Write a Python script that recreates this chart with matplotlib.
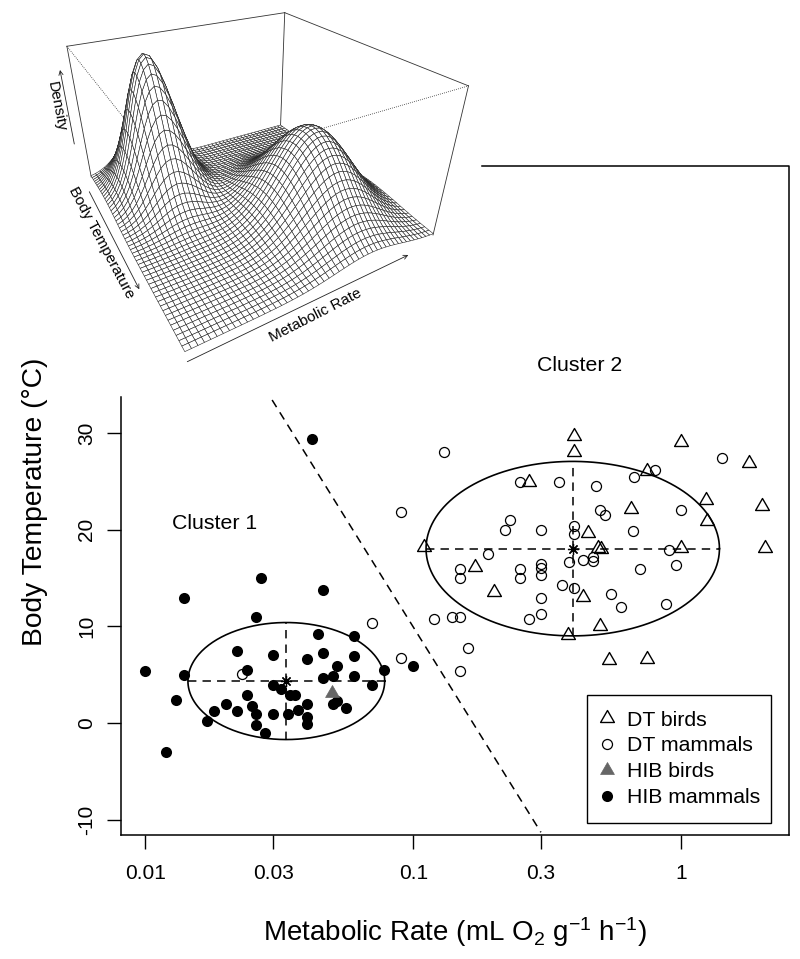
import numpy as np
import matplotlib
matplotlib.use('Agg')
import matplotlib.pyplot as plt
from matplotlib.lines import Line2D
from matplotlib.patches import FancyArrowPatch, Rectangle
from matplotlib.path import Path
from mpl_toolkits.mplot3d import Axes3D

plt.rcParams['font.family'] = ['Liberation Sans', 'DejaVu Sans']
plt.rcParams['mathtext.fontset'] = 'custom'
plt.rcParams['mathtext.rm'] = 'Liberation Sans'
plt.rcParams['mathtext.default'] = 'regular'

# values, x is log10 of metabolic rate
hib_mammals_logmr = [-1.377, -1.568, -1.855, -1.338, -1.586, -1.357, -1.221, -1.658, -1.524, -1.338,
                     -1.398, -1.221, -1.285, -1.621, -2.000, -1.855, -1.108, -1.001, -1.338, -1.301,
                     -1.221, -1.155, -1.524, -1.494, -1.460, -1.443, -1.621, -1.886, -1.699, -1.398,
                     -1.602, -1.285, -1.301, -1.252, -1.745, -1.658, -1.432, -1.586, -1.524, -1.469,
                     -1.398, -1.770, -1.398, -1.586, -1.554, -1.922]
hib_mammals_temp = [29.4, 14.97, 12.97, 13.76, 10.97, 9.24, 8.97, 7.45, 7.03, 7.24,
                    6.66, 6.97, 5.86, 5.45, 5.34, 4.93, 5.45, 5.93, 4.66, 4.90,
                    4.83, 3.93, 3.93, 3.55, 2.93, 2.93, 2.93, 2.34, 1.93, 1.93,
                    1.76, 2.28, 1.93, 1.55, 1.24, 1.24, 1.34, 0.93, 0.93, 0.93,
                    0.62, 0.24, -0.07, -0.24, -1.03, -2.97]

hib_birds_logmr = [-1.303]
hib_birds_temp = [3.07]

dt_mammals_logmr = [-1.155, -1.640, -0.886, -1.045, 0.153, -0.097, -0.174, -0.602, -0.455, -0.318,
                    -0.301, -0.283, 0.000, -0.638, -0.658, -0.522, -0.398, -0.398, -0.180, -0.722,
                    -0.045, -0.419, -0.367, -0.327, -0.327, -0.017, -0.154, -0.824, -0.824, -0.602,
                    -0.602, -0.522, -0.522, -0.522, -0.444, -0.398, -0.260, -0.522, -0.222, -0.055,
                    -0.522, -0.568, -0.921, -0.855, -0.824, -0.796, -1.045, -0.824]
dt_mammals_temp = [10.38, 5.03, 28.0, 21.79, 27.38, 26.17, 25.48, 24.97, 24.97, 24.48,
                   22.0, 21.55, 22.0, 21.0, 19.97, 19.97, 20.38, 19.59, 19.86, 17.45,
                   17.86, 16.66, 16.86, 17.14, 16.76, 16.38, 15.97, 15.97, 14.97, 15.97,
                   14.97, 16.41, 16.07, 15.28, 14.28, 13.97, 13.38, 12.97, 11.97, 12.28,
                   11.28, 10.76, 10.76, 10.97, 10.97, 7.76, 6.76, 5.38]

dt_birds_logmr = [-0.398, -0.398, 0.000, 0.256, -0.125, -0.568, 0.094, 0.302, -0.186, 0.097, -0.347,
                  -0.960, -0.308, -0.300, 0.000, 0.313, -0.770, -0.699, -0.367, -0.301, -0.420,
                  -0.267, -0.125]
dt_birds_temp = [29.69, 28.07, 29.07, 26.9, 26.1, 24.9, 23.07, 22.45, 22.1, 20.86, 19.69,
                 18.24, 18.1, 18.03, 18.07, 18.07, 16.1, 13.55, 13.07, 10.07, 9.07,
                 6.55, 6.59]

# cluster centre, half widths (log10 rate, deg C)
cluster_logmr = [-1.474, -0.404]
cluster_temp = [4.34, 18.03]
cluster_rx = [0.3675, 0.548]
cluster_ry = [6.05, 9.02]

# dashed boundary between the clusters
boundary_logmr = [-1.527, -0.523]
boundary_temp = [33.4, -11.3]

xtick_vals = [0.01, 0.03, 0.1, 0.3, 1]
xtick_labels = ['0.01', '0.03', '0.1', '0.3', '1']
ytick_vals = [-10, 0, 10, 20, 30]
ytick_labels = ['-10', '0', '10', '20', '30']

# two cluster mixture behind the density surface
mix_weight = [0.43, 0.57]
mix_sx = [0.21, 0.34]
mix_sy = [4.5, 6.0]

W, H = 800, 959


def fig_xy(px, py):
    return px / W, 1 - py / H


triangle = Path([(-1, -0.577), (1, -0.577), (0, 1.155), (-1, -0.577)], closed=True)

fig = plt.figure(figsize=(W / 100, H / 100), dpi=100)

# main scatter
ax = fig.add_axes([121 / W, 1 - 835 / H, (789 - 121) / W, (835 - 397) / H])
ax.set_xscale('log')
ax.set_xlim(10 ** -2.0915, 10 ** 0.4038)
ax.set_ylim(-11.58, 33.71)
ax.patch.set_alpha(0)

ax.plot(10 ** np.array(dt_birds_logmr), dt_birds_temp, ls='', marker=triangle, ms=11.5, mfc='none', mec='black', mew=1.0)
ax.plot(10 ** np.array(dt_mammals_logmr), dt_mammals_temp, ls='', marker='o', ms=7.2, mfc='none', mec='black', mew=0.9)
ax.plot(10 ** np.array(hib_mammals_logmr), hib_mammals_temp, ls='', marker='o', ms=8, mfc='black', mec='black', mew=0)
ax.plot(10 ** np.array(hib_birds_logmr), hib_birds_temp, ls='', marker=triangle, ms=11.5, mfc='#666666', mec='#666666', mew=0.5)

# ellipses with their axes and centres
for cx, cy, rx, ry in zip(cluster_logmr, cluster_temp, cluster_rx, cluster_ry):
    t = np.linspace(0, 2 * np.pi, 300)
    ax.plot(10 ** (cx + rx * np.cos(t)), cy + ry * np.sin(t), color='black', lw=1.2)
    ax.plot([10 ** (cx - rx), 10 ** (cx + rx)], [cy, cy], color='black', lw=1.1, dashes=(5.5, 4))
    ax.plot([10 ** cx, 10 ** cx], [cy - ry, cy + ry], color='black', lw=1.1, dashes=(5.5, 4))
    ax.plot(10 ** cx, cy, marker=(8, 2, 0), ms=8, color='black', mew=0.9)

ax.plot(10 ** np.array(boundary_logmr), boundary_temp, color='black', lw=1.1, dashes=(5.5, 4))

ax.text(10 ** -1.741, 20.6, 'Cluster 1', fontsize=15.3, ha='center', va='center')
ax.text(10 ** -0.379, 37, 'Cluster 2', fontsize=15.3, ha='center', va='center', clip_on=False)

ax.spines['top'].set_visible(False)
ax.spines['right'].set_visible(False)
ax.spines['left'].set_linewidth(1.1)
ax.spines['bottom'].set_linewidth(1.1)
ax.set_xticks(xtick_vals)
ax.set_xticklabels(xtick_labels)
ax.minorticks_off()
ax.set_yticks(ytick_vals)
ax.set_yticklabels(ytick_labels)
ax.tick_params(axis='x', length=10, width=1, labelsize=15, pad=11)
ax.tick_params(axis='y', length=10, width=1, labelsize=15, pad=8)
for lab in ax.get_yticklabels():
    lab.set_rotation(90)
    lab.set_va('center')

ax.set_xlabel('Metabolic Rate (mL O$_2$ g$^{-1}$ h$^{-1}$)', fontsize=20, labelpad=23)
ax.set_ylabel('Body Temperature (°C)', fontsize=20.3, labelpad=21, y=0.761)

# legend box is drawn apart, its padding differs between the sides
fig.add_artist(Rectangle(fig_xy(587.3, 823.3), 183.4 / W, 128.3 / H, transform=fig.transFigure,
                         facecolor='white', edgecolor='black', lw=1.0))
handles = [
    Line2D([], [], ls='', marker=triangle, ms=11.5, mfc='none', mec='black', mew=1.0),
    Line2D([], [], ls='', marker='o', ms=7.2, mfc='none', mec='black', mew=0.9),
    Line2D([], [], ls='', marker=triangle, ms=11.5, mfc='#666666', mec='#666666', mew=0.5),
    Line2D([], [], ls='', marker='o', ms=8, mfc='black', mec='black', mew=0),
]
leg = fig.legend(handles, ['DT birds', 'DT mammals', 'HIB birds', 'HIB mammals'], fontsize=15.3,
                 loc='lower right', bbox_to_anchor=fig_xy(760.5, 807), frameon=False, borderaxespad=0,
                 handlelength=1, handletextpad=0.47, labelspacing=0.32, borderpad=0)

# long frame going up round the inset
fig.add_artist(Line2D([482 / W, 789 / W, 789 / W], [1 - 166 / H, 1 - 166 / H, 1 - 835 / H], color='black', lw=1.1))

# density surface over the range of the points
all_x = np.array(hib_mammals_logmr + hib_birds_logmr + dt_mammals_logmr + dt_birds_logmr)
all_y = np.array(hib_mammals_temp + hib_birds_temp + dt_mammals_temp + dt_birds_temp)

gx = np.linspace(all_x.min(), all_x.max(), 50)
gy = np.linspace(all_y.min(), all_y.max(), 50)
X, Y = np.meshgrid(gx, gy)
Z = np.zeros_like(X)
for w, a, b, sx, sy in zip(mix_weight, cluster_logmr, cluster_temp, mix_sx, mix_sy):
    Z += w / (2 * np.pi * sx * sy) * np.exp(-0.5 * ((X - a) / sx) ** 2 - 0.5 * ((Y - b) / sy) ** 2)

ax3 = fig.add_axes([42 / W, 1 - 344.7 / H, 400 / W, 400 / H], projection='3d', computed_zorder=False)
ax3.set_proj_type('persp', focal_length=0.2246)
ax3.view_init(elev=29, azim=-120)
ax3.set_box_aspect((1.675, 1.72, 1))
x0, x1 = gx[0], gx[-1]
y0, y1 = gy[0], gy[-1]
z0, z1 = 0, Z.max()
ax3.set_xlim(x0, x1)
ax3.set_ylim(y1, y0)
ax3.set_zlim(z0, z1)
ax3.set_axis_off()
ax3.patch.set_alpha(0)

# box edges behind the surface
for xs, ys, zs in [((x0, x1), (y0, y0), (z1, z1)), ((x1, x1), (y0, y1), (z1, z1)),
                   ((x0, x0), (y0, y0), (z0, z1)), ((x1, x1), (y0, y0), (z0, z1)),
                   ((x1, x1), (y1, y1), (z0, z1))]:
    ax3.plot(xs, ys, zs, color='#333333', lw=0.6, zorder=1, clip_on=False)
for xs, ys, zs in [((x0, x0), (y0, y1), (z1, z1)), ((x0, x1), (y1, y1), (z1, z1))]:
    ax3.plot(xs, ys, zs, color='#333333', lw=0.6, ls=(0, (1, 1.5)), zorder=1, clip_on=False)

surf = ax3.plot_surface(X, Y, Z, rcount=50, ccount=50, color='white', edgecolor='#222222', linewidth=0.4,
                        shade=False, antialiased=True, zorder=2)
surf.set_clip_on(False)

# axis names and arrows of the inset
for start, end in [((74.3, 144), (60, 70)), ((89.3, 191.7), (139.3, 289.3)), ((187.3, 361.7), (408.3, 255))]:
    fig.add_artist(FancyArrowPatch(fig_xy(*start), fig_xy(*end), transform=fig.transFigure,
                                   arrowstyle='->,head_length=3,head_width=1.5', lw=0.6,
                                   color='#222222', shrinkA=0, shrinkB=0))
for label, px, py, rot in [('Density', 56.7, 107, -79), ('Body Temperature', 101.7, 243, -62), ('Metabolic Rate', 315.7, 315, 27)]:
    tx, ty = fig_xy(px, py)
    fig.text(tx, ty, label, fontsize=11, rotation=rot, ha='center', va='center', rotation_mode='anchor')

fig.savefig('out.png', dpi=100)
